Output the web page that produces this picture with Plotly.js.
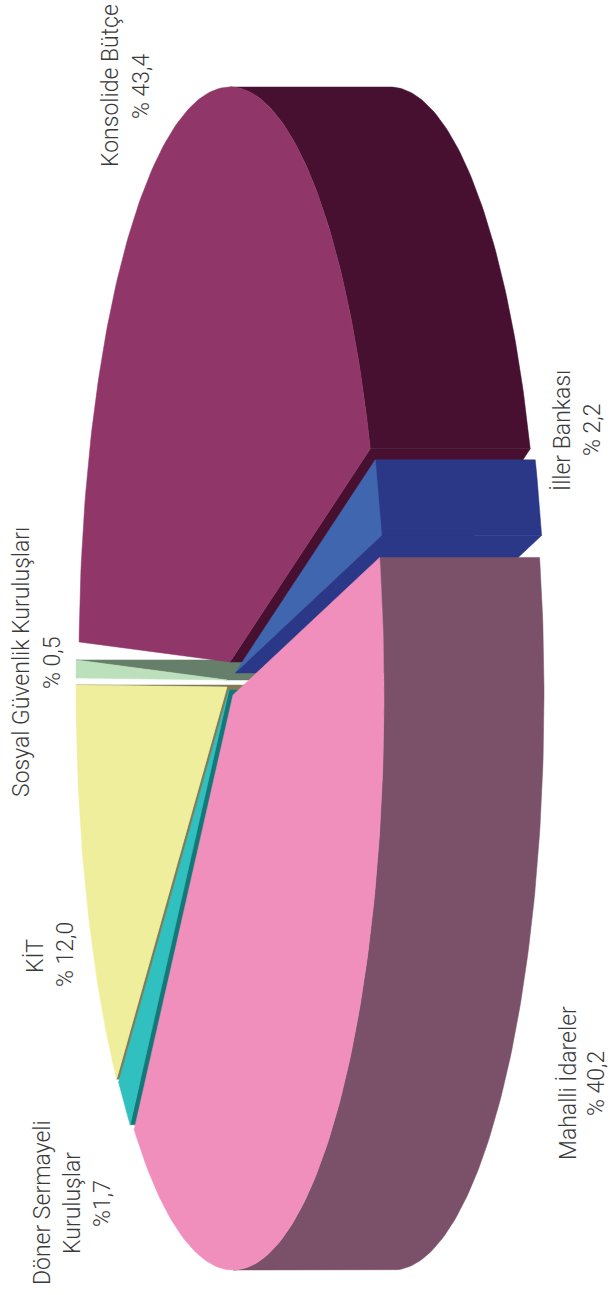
<!DOCTYPE html>
<html><head><meta charset="utf-8">
<script src="https://cdn.plot.ly/plotly-3.0.1.min.js"></script>
<style>html,body{margin:0;padding:0;background:#fff}</style></head>
<body><div id="chart" style="width:610px;height:1295px"></div>
<script>
// ---- data ----
const categories = ["Konsolide Bütçe","İller Bankası","Mahalli İdareler","Döner Sermayeli Kuruluşlar","KİT","Sosyal Güvenlik Kuruluşları"];
const values = [43.4, 2.2, 40.2, 1.7, 12.0, 0.5];
const valueLabels = ["% 43,4","% 2,2","% 40,2","%1,7","% 12,0","% 0,5"];
// ---- styles and projection ----
const faceColors = ["#913668","#4066B0","#F08FBC","#30C0C0","#EEEE9C","#BCE0BC"];
const wallColors = ["#471030","#2B3888","#7B5069","#157878","#827C56","#667F6A"];
const explodeCentres = [[230,662],[235,673],[233,695],[229,690],[227,687],[227,680]];
const semiX = 151, semiY = 575, depth = 160, startAngle = -88;
const drawOrder = [5,0,1,4,3,2];
const labelLines = [
  [[110,86,categories[0]],[141,86,valueLabels[0]]],
  [[562,431,categories[1]],[592,430,valueLabels[1]]],
  [[568,1083,categories[2]],[596,1084,valueLabels[2]]],
  [[42,1203,"Döner Sermayeli"],[72,1203,"Kuruluşlar"],[102,1204,valueLabels[3]]],
  [[35,956,categories[4]],[65,955,valueLabels[4]]],
  [[21,662,categories[5]],[52,663,valueLabels[5]]]
];
// ---- geometry from values ----
const total = values.reduce((a,b)=>a+b,0);
let cursor = startAngle;
const spans = values.map(v=>{const s=[cursor,cursor+v/total*360];cursor=s[1];return s;});
function pt(c,t,dx){const r=t*Math.PI/180;return [c[0]+semiX*Math.sin(r)+(dx||0),c[1]-semiY*Math.cos(r)];}
function arc(c,a,b,dx){const n=Math.max(2,Math.ceil(Math.abs(b-a)));const o=[];for(let i=0;i<=n;i++)o.push(pt(c,a+(b-a)*i/n,dx));return o;}
function poly(points,color){
  const closed=points.concat([points[0]]);
  return {type:'scatter',mode:'lines',x:closed.map(p=>p[0]),y:closed.map(p=>p[1]),fill:'toself',fillcolor:color,
    line:{color:color,width:0.5},hoverinfo:'skip',showlegend:false};
}
const traces=[];
drawOrder.forEach(i=>{
  const c=explodeCentres[i],[a,b]=spans[i];
  const mid=pt(c,(a+b)/2);
  // a cut wall shows on whichever straight edge faces the extrusion
  [a,b].forEach(t=>{
    const e=pt(c,t),ex=e[0]-c[0],ey=e[1]-c[1];
    const sideFace=ex*(mid[1]-c[1])-ey*(mid[0]-c[0]);
    const sideDepth=-ey*depth;
    if(sideFace*sideDepth<0) traces.push(poly([c,e,[e[0]+depth,e[1]],[c[0]+depth,c[1]]],wallColors[i]));
  });
  // outer rim: only the part on the extruded side of the ellipse
  const lo=Math.max(a,0),hi=Math.min(b,180);
  if(hi>lo){traces.push(poly(arc(c,lo,hi).concat(arc(c,hi,lo,depth)),wallColors[i]));}
  // top face
  traces.push(poly([c].concat(arc(c,a,b)),faceColors[i]));
});
const annotations=[];
labelLines.forEach(ls=>ls.forEach(l=>annotations.push({x:l[0],y:l[1],xref:'x',yref:'y',text:l[2],showarrow:false,
  textangle:-90,xanchor:'center',yanchor:'middle',font:{family:'Roboto, Liberation Sans, sans-serif',size:23,color:'#3a3a3a',weight:300}})));
Plotly.newPlot('chart',traces,{
  width:610,height:1295,margin:{l:0,r:0,t:0,b:0},paper_bgcolor:'#fff',plot_bgcolor:'#fff',showlegend:false,
  xaxis:{range:[0,610],visible:false,fixedrange:true},
  yaxis:{range:[1295,0],visible:false,fixedrange:true},
  annotations:annotations
},{displayModeBar:false,staticPlot:true});
</script></body></html>
